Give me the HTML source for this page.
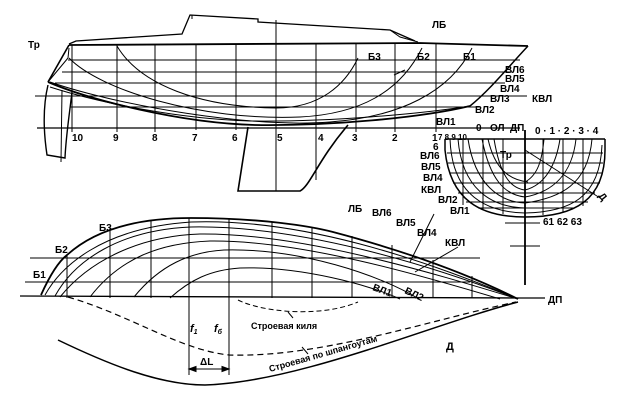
<!DOCTYPE html>
<html><head><meta charset="utf-8"><style>
html,body{margin:0;padding:0;background:#fff}
svg{display:block}
text{font-family:"Liberation Sans",sans-serif;font-weight:bold;font-size:10px;fill:#000}
</style></head><body>
<svg width="635" height="406" viewBox="0 0 635 406" xmlns="http://www.w3.org/2000/svg">
<g fill="none" stroke="#000" stroke-width="1">
<!-- PROFILE -->
<path d="M69,44 L76,41 L182,34 L190,15 L258,19 L258,22 L390,30 L415,41" stroke-width="1.3"/>
<path d="M192,15 L192,19 M390,30 L400,37 L418,42"/>
<path d="M69,45 L420,43 L528,46" stroke-width="1.8"/>
<path d="M528,46 C510,65 490,90 470,106" stroke-width="1.5"/>
<path d="M69,45 L48,82" stroke-width="1.6"/>
<path d="M69,48 L68,58 L48,82"/>
<path d="M48,82 C90,100 180,123 255,125 C330,126 420,118 470,106" stroke-width="1.8"/>
<path d="M50,87 C100,103 180,119 250,121 C330,122 420,114 470,106"/>
<path d="M48,85 C42,110 44,135 47,155 L65,158 C66,135 70,110 72,92" stroke-width="1.4"/>
<path d="M62,90 L61,162"/>
<path d="M248,127 L238,191 L300,191 C310,186 318,160 348,125" stroke-width="1.6"/>
<path d="M68,60 L520,60 M62,72 L512,72 M55,83 L505,83"/>
<path d="M35,96 L527,96"/>
<path d="M70,107 L480,107"/>
<path d="M37,128 L520,128" stroke-width="1.3"/>
<path d="M72,45 L72,132 M117,45 L117,132 M155,45 L155,132 M196,44 L196,130 M236,44 L236,130 M276,20 L276,191 M316,43 L316,180 M356,43 L356,132 M395,43 L395,132 M436,44 L436,132"/>
<path d="M117,46 C140,85 200,107 276,108 C320,108 345,85 358,58"/>
<path d="M69,58 C100,90 200,121 300,117 C360,114 400,92 422,48"/>
<path d="M50,82 C120,106 250,128 330,122 C400,117 450,92 472,48"/>
<!-- BODY PLAN -->
<path d="M445,139 L605,139 M445,139 L445,150 C450,200 480,217 525,217 C575,217 605,200 605,150 L605,139" stroke-width="1.5"/>
<path d="M450,139 C452,195 485,212 525,213 C570,212 600,198 602,145"/>
<path d="M458,139 C462,188 490,207 525,208"/>
<path d="M468,139 C475,185 500,202 525,203"/>
<path d="M482,139 C490,180 505,195 525,197"/>
<path d="M494,139 C500,175 510,188 525,190"/>
<path d="M525,203 C560,198 588,185 592,139 M525,197 C552,192 572,175 576,139 M525,190 C545,185 556,165 560,139 M525,182 C538,175 542,160 544,139"/>
<path d="M447,153 L603,153 M448,163 L603,163 M450,173 L602,173 M453,183 L600,183 M458,193 L595,193 M466,202 L588,202 M478,208 L575,208"/>
<path d="M463,139 L463,205 M483,139 L483,210 M503,139 L503,214 M543,139 L543,215 M563,139 L563,212 M583,139 L583,206"/>
<path d="M525,130 L525,285" stroke-width="1.8"/>
<path d="M505,223 L540,223 M510,246 L540,246"/>
<path d="M525,150 L600,198"/>
<path d="M488,139 C495,170 510,180 528,182"/>
<!-- PLAN VIEW -->
<path d="M20,296 L520,298 L545,298" stroke-width="1.3"/>
<path d="M41,295 C50,275 58,262 67,255 C100,225 150,218 191,218 C260,218 310,226 333,232 C420,255 480,280 518,299" stroke-width="1.8"/>
<path d="M45,295 C60,268 100,228 191,222 C300,218 420,258 518,299"/>
<path d="M55,296 C75,260 120,230 191,227 C300,225 430,265 518,299"/>
<path d="M60,297 C90,260 140,236 200,234 C300,233 430,272 518,299"/>
<path d="M90,297 C120,258 160,243 210,241 C300,240 420,275 500,299"/>
<path d="M134,297 C160,265 190,252 224,250 C300,248 380,275 419,299"/>
<path d="M170,298 C190,280 210,270 240,268 C300,266 370,285 400,299"/>
<path d="M30,258 L480,258 M25,282 L470,282"/>
<path d="M67,255 L67,298 M110,228 L110,298 M151,221 L151,298 M189,218 L189,375 M229,219 L229,375 M272,222 L272,298 M312,227 L312,298 M352,236 L352,298 M392,245 L392,298 M433,260 L433,298 M472,276 L472,298"/>
<path d="M238,300 C262,312 320,318 358,302" stroke-dasharray="5,3"/>
<path d="M68,297 C130,315 180,350 229,355 C320,358 430,320 516,302" stroke-dasharray="6,4" stroke-width="1.2"/>
<path d="M58,340 C110,365 160,385 205,385 C300,382 430,325 518,302" stroke-width="1.5"/>
<path d="M189,369 L229,369"/>
<path d="M189,369 l7,-2.5 l0,5 z M229,369 l-7,-2.5 l0,5 z" fill="#000"/>
<path d="M394,75 L405,70"/>
<path d="M434,214 L410,262 M458,247 L415,272"/>
<path d="M288,312 L293,318 M302,347 L308,354"/>
</g>
<text x="28" y="48">Тр</text>
<text x="432" y="28">ЛБ</text>
<text x="368" y="60">Б3</text>
<text x="417" y="60">Б2</text>
<text x="463" y="60">Б1</text>
<text x="505" y="73">ВЛ6</text>
<text x="505" y="82">ВЛ5</text>
<text x="500" y="92">ВЛ4</text>
<text x="490" y="102">ВЛ3</text>
<text x="532" y="102">КВЛ</text>
<text x="475" y="113">ВЛ2</text>
<text x="436" y="125">ВЛ1</text>
<text x="72" y="141">10</text><text x="113" y="141">9</text><text x="152" y="141">8</text><text x="192" y="141">7</text><text x="232" y="141">6</text><text x="277" y="141">5</text><text x="318" y="141">4</text><text x="352" y="141">3</text><text x="392" y="141">2</text><text x="432" y="141">1</text>
<text x="438" y="140" style="font-size:8px">7 8 9 10</text>
<text x="476" y="131">0</text><text x="490" y="131">ОЛ</text><text x="510" y="131">ДП</text>
<text x="535" y="134">0 · 1 · 2 · 3 · 4</text>
<text x="500" y="158">Тр</text>
<text x="433" y="150">6</text>
<text x="420" y="159">ВЛ6</text>
<text x="421" y="170">ВЛ5</text>
<text x="423" y="181">ВЛ4</text>
<text x="421" y="193">КВЛ</text>
<text x="438" y="203">ВЛ2</text>
<text x="450" y="214">ВЛ1</text>
<text x="543" y="225">61 62 63</text>
<text x="598" y="196" transform="rotate(50 598 196)">Д</text>
<text x="348" y="212">ЛБ</text>
<text x="372" y="216">ВЛ6</text>
<text x="396" y="226">ВЛ5</text>
<text x="417" y="236">ВЛ4</text>
<text x="445" y="246">КВЛ</text>
<text x="99" y="231">Б3</text>
<text x="55" y="253">Б2</text>
<text x="33" y="278">Б1</text>
<text x="372" y="290" transform="rotate(20 372 290)">ВЛ1</text>
<text x="404" y="293" transform="rotate(25 404 293)">ВЛ2</text>
<text x="548" y="303">ДП</text>
<text x="190" y="332" style="font-style:italic;font-size:11px">f<tspan font-size="7" dy="2">1</tspan></text>
<text x="214" y="332" style="font-style:italic;font-size:11px">f<tspan font-size="7" dy="2">б</tspan></text>
<text x="251" y="329" style="font-size:9px">Строевая киля</text>
<text x="270" y="372" style="font-size:9px" transform="rotate(-16 270 372)">Строевая по шпангоутам</text>
<text x="446" y="350" style="font-size:11px">Д</text>
<text x="200" y="365">ΔL</text>
</svg>
</body></html>
